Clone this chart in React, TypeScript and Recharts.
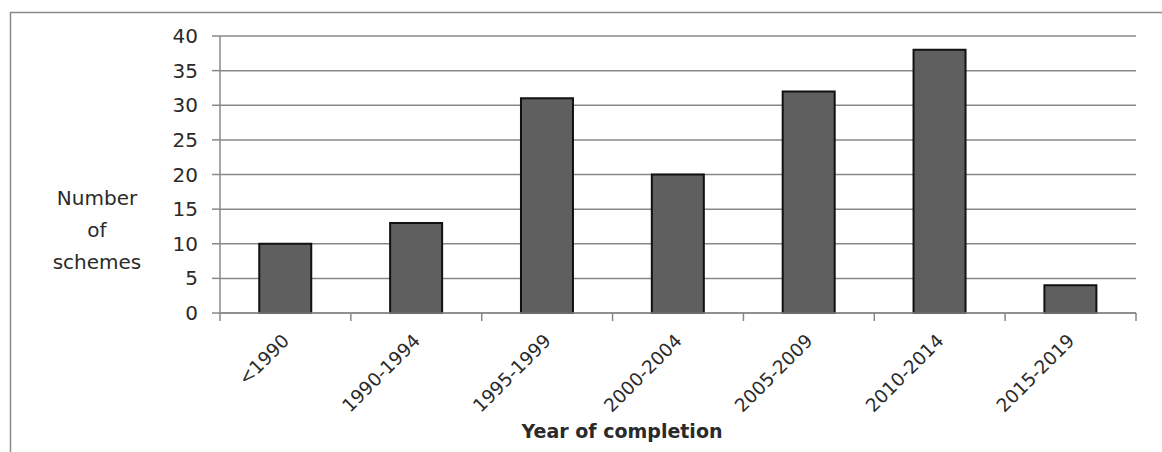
import { BarChart, Bar, XAxis, YAxis, CartesianGrid } from 'recharts';

const periods = ['<1990', '1990-1994', '1995-1999', '2000-2004', '2005-2009', '2010-2014', '2015-2019'];
const schemes = [10, 13, 31, 20, 32, 38, 4];
const yTicks = [0, 5, 10, 15, 20, 25, 30, 35, 40];
const yLabelLines = ['Number', 'of', 'schemes'];
const xTitle = 'Year of completion';

const data = periods.map((period, i) => ({ period, schemes: schemes[i] }));

const FONT = '"DejaVu Sans", sans-serif';
const TEXT = '#2a2a2a';
const GRID = '#888';

function PeriodTick(props: any) {
  const { x, y, payload, index } = props;
  const half = payload?.offset ?? 0;
  const axisY = y - 10;
  const ax = x + 5;
  const ay = y + 19;
  return (
    <g>
      <line x1={x - half} x2={x - half} y1={axisY} y2={axisY + 8} stroke={GRID} strokeWidth={1.5} />
      {index === periods.length - 1 && (
        <line x1={x + half} x2={x + half} y1={axisY} y2={axisY + 8} stroke={GRID} strokeWidth={1.5} />
      )}
      <text x={ax} y={ay} textAnchor="end" transform={`rotate(-45, ${ax}, ${ay})`} fontFamily={FONT} fontSize={18.5} fill={TEXT}>
        {payload.value}
      </text>
    </g>
  );
}

export default function App() {
  return (
    <div style={{ position: 'absolute', left: 0, top: 0, width: 1162, height: 452, overflow: 'hidden', background: '#fff' }}>
      <BarChart width={1162} height={452} data={data} margin={{ top: 36, right: 26, bottom: 39, left: 160 }} barCategoryGap="30%">
        <CartesianGrid vertical={false} stroke={GRID} strokeWidth={1.5} />
        <XAxis
          dataKey="period"
          height={100}
          interval={0}
          tickSize={8}
          tickMargin={2}
          tickLine={false}
          axisLine={{ stroke: GRID, strokeWidth: 1.5 }}
          tick={<PeriodTick />}
        />
        <YAxis
          width={60}
          domain={[0, 40]}
          ticks={yTicks}
          interval={0}
          tickSize={8}
          tickMargin={14}
          tickLine={{ stroke: GRID, strokeWidth: 1.5 }}
          axisLine={{ stroke: GRID, strokeWidth: 1.5 }}
          tick={{ fill: TEXT, fontFamily: FONT, fontSize: 20 }}
        />
        <Bar dataKey="schemes" fill="#5f5f5f" stroke="#111" strokeWidth={2} isAnimationActive={false} />
      </BarChart>
      <svg width={1162} height={452} style={{ position: 'absolute', left: 0, top: 0, pointerEvents: 'none' }}>
        <path d="M10.5,452 L10.5,12.5 L1162,12.5" fill="none" stroke="#8a8a8a" strokeWidth={1.5} />
        {yLabelLines.map((line, i) => (
          <text key={line} x={97} y={205 + i * 32} textAnchor="middle" fontFamily={FONT} fontSize={20} fill={TEXT}>
            {line}
          </text>
        ))}
        <text x={622} y={438} textAnchor="middle" fontFamily={FONT} fontSize={19} fontWeight="bold" fill={TEXT}>
          {xTitle}
        </text>
      </svg>
    </div>
  );
}
